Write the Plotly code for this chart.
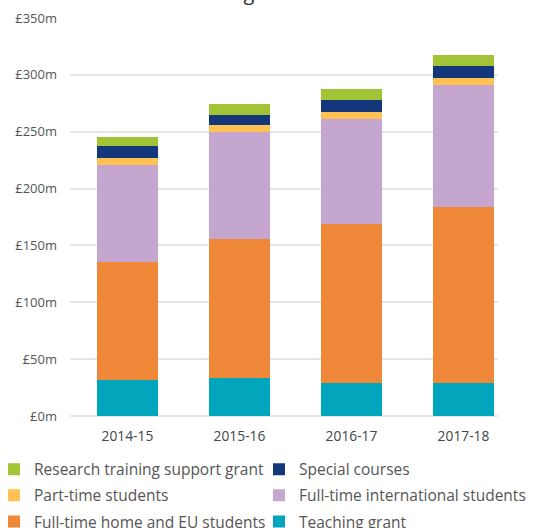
import plotly.graph_objects as go

years = ["2014-15", "2015-16", "2016-17", "2017-18"]
teaching_grant = [31.6, 33.6, 29.0, 29.0]
home_eu = [103.7, 121.9, 139.6, 154.6]
international = [85.1, 93.9, 92.2, 107.1]
part_time = [6.2, 6.2, 6.2, 6.2]
special_courses = [10.5, 8.8, 10.5, 10.5]
research_training = [7.9, 9.6, 9.7, 10.5]

y_ticks = [0, 50, 100, 150, 200, 250, 300, 350]
y_labels = ["£0m", "£50m", "£100m", "£150m", "£200m", "£250m", "£300m", "£350m"]

# (name, values, colour, legend column, row in legend)
series = [
    ("Teaching grant", teaching_grant, "#01A6BD", "legend2", 3),
    ("Full-time home and EU students", home_eu, "#F0883A", "legend", 3),
    ("Full-time international students", international, "#C5A6CF", "legend2", 2),
    ("Part-time students", part_time, "#FFC252", "legend", 2),
    ("Special courses", special_courses, "#14367A", "legend2", 1),
    ("Research training support grant", research_training, "#A2C538", "legend", 1),
]

fig = go.Figure()
for name, vals, col, leg, row in series:
    fig.add_trace(go.Bar(x=years, y=vals, name=name, legend=leg, legendgroup=name,
                         legendrank=row * 100,
                         marker=dict(color=col, line=dict(width=0)), width=0.545))

font_family = "'Open Sans', Lato, sans-serif"
legend_common = dict(orientation="v", traceorder="grouped", y=-0.092, yanchor="top",
                     xanchor="left", font=dict(size=15.5, color="#555555"), itemclick=False,
                     tracegroupgap=3, bgcolor="rgba(0,0,0,0)")
fig.update_layout(
    barmode="stack",
    width=544, height=528,
    margin=dict(l=70, r=46, t=18, b=112, autoexpand=False),
    paper_bgcolor="white", plot_bgcolor="white",
    font=dict(family=font_family, color="#555555", size=13),
    showlegend=True,
    legend=dict(x=-0.1776, **legend_common),
    legend2=dict(x=0.4416, **legend_common),
    xaxis=dict(type="category", range=[-0.513, 3.308], showgrid=False, showline=False,
               ticks="", ticklabelstandoff=10, tickfont=dict(size=13.8, color="#444444")),
    yaxis=dict(range=[0, 350], tickvals=y_ticks, ticktext=y_labels, showgrid=True,
               gridcolor="#e6e6e6", gridwidth=1.5, zeroline=True, zerolinecolor="#e6e6e6",
               zerolinewidth=1.5, showline=False, ticks="", ticklabelstandoff=12,
               tickfont=dict(size=13, color="#555555")),
    annotations=[dict(text="Teaching income sources", x=0.51, xref="paper", y=1.065, yref="paper",
                      showarrow=False, yanchor="middle", font=dict(size=20, color="#333333",
                      family=font_family))],
)

fig.write_html("out.html", config={"displayModeBar": False},
               post_script="document.body.style.margin='0';")
